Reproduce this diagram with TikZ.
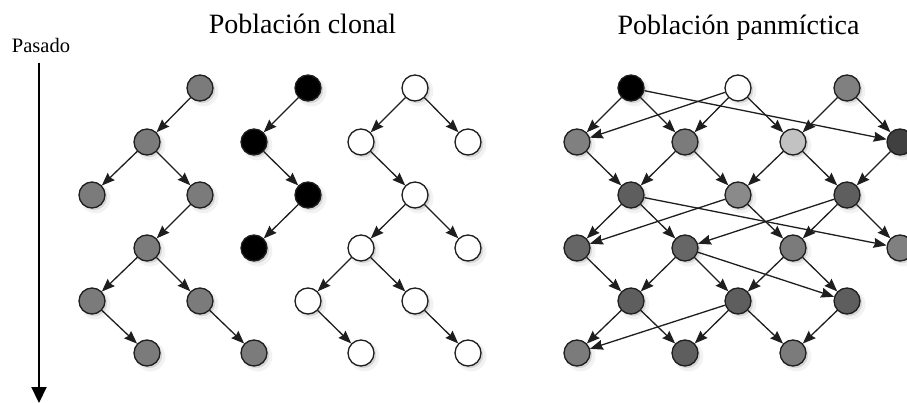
\documentclass[tikz,border=0pt]{standalone}
\usepackage{fontspec}
\setmainfont{Liberation Serif}
\usetikzlibrary{arrows.meta,shadows}

% fill shades of the individuals
\definecolor{gclone}{HTML}{7B7B7B}
\definecolor{gmid}{HTML}{808080}
\definecolor{glight}{HTML}{C2C2C2}
\definecolor{gdeep}{HTML}{404040}
\definecolor{gdark}{HTML}{5E5E5E}
\definecolor{gsoft}{HTML}{8A8A8A}
\definecolor{gdim}{HTML}{666666}
\definecolor{rim}{HTML}{1E1E1E}

\begin{document}
\begin{tikzpicture}[x=1pt,y=-1pt,
  ind/.style={circle, draw=rim, line width=1.3pt, minimum size=26pt, inner sep=0pt,
    drop shadow={opacity=0.10, shadow xshift=3pt, shadow yshift=-3pt, shadow scale=1.15},
    drop shadow={opacity=0.25, shadow xshift=2.2pt, shadow yshift=-2.2pt}},
  link/.style={draw=rim, line width=1.3pt, -{Stealth[length=13pt,width=10pt,inset=1.5pt]}},
  heading/.style={font=\fontsize{28}{32}\selectfont, anchor=base, inner sep=0pt},
  timeline/.style={line width=2.2pt, -{Triangle[length=16pt,width=15pt]}}
]
\useasboundingbox (0,0) rectangle (907,403);

% titles and time axis
\node[heading] (tclonal) at (302.5,34) {Población clonal};
\node[heading] (tpanm) at (738.5,35) {Población panmíctica};
\node[font=\fontsize{20.5}{24}\selectfont, anchor=base, inner sep=0pt] (pasado) at (41,53) {Pasado};
\coordinate (ttop) at (39,63);
\coordinate (tbot) at (39,403);
\draw[timeline] (ttop) -- (tbot);

% ---- clonal population: grey lineage ----
\node[ind, fill=gclone] (g1) at (200,88) {};
\node[ind, fill=gclone] (g2) at (147,142) {};
\node[ind, fill=gclone] (g3) at (92,195) {};
\node[ind, fill=gclone] (g4) at (200,195) {};
\node[ind, fill=gclone] (g5) at (147,248) {};
\node[ind, fill=gclone] (g6) at (92,301) {};
\node[ind, fill=gclone] (g7) at (200,301) {};
\node[ind, fill=gclone] (g8) at (147,353) {};
\node[ind, fill=gclone] (g9) at (254,353) {};
\draw[link] (g1) -- (g2);
\draw[link] (g2) -- (g3);
\draw[link] (g2) -- (g4);
\draw[link] (g4) -- (g5);
\draw[link] (g5) -- (g6);
\draw[link] (g5) -- (g7);
\draw[link] (g6) -- (g8);
\draw[link] (g7) -- (g9);

% ---- clonal population: black lineage ----
\node[ind, fill=black] (k1) at (308,88) {};
\node[ind, fill=black] (k2) at (254,142) {};
\node[ind, fill=black] (k3) at (308,195) {};
\node[ind, fill=black] (k4) at (254,248) {};
\draw[link] (k1) -- (k2);
\draw[link] (k2) -- (k3);
\draw[link] (k3) -- (k4);

% ---- clonal population: white lineage ----
\node[ind, fill=white] (w1) at (415,88) {};
\node[ind, fill=white] (w2) at (361,142) {};
\node[ind, fill=white] (w3) at (468,142) {};
\node[ind, fill=white] (w4) at (415,195) {};
\node[ind, fill=white] (w5) at (361,248) {};
\node[ind, fill=white] (w6) at (468,248) {};
\node[ind, fill=white] (w7) at (308,301) {};
\node[ind, fill=white] (w8) at (415,301) {};
\node[ind, fill=white] (w9) at (361,353) {};
\node[ind, fill=white] (w10) at (468,353) {};
\draw[link] (w1) -- (w2);
\draw[link] (w1) -- (w3);
\draw[link] (w2) -- (w4);
\draw[link] (w4) -- (w5);
\draw[link] (w4) -- (w6);
\draw[link] (w5) -- (w7);
\draw[link] (w5) -- (w8);
\draw[link] (w7) -- (w9);
\draw[link] (w8) -- (w10);

% ---- panmictic population ----
\node[ind, fill=black] (a1) at (631,88) {};
\node[ind, fill=white] (a2) at (738,88) {};
\node[ind, fill=gmid]  (a3) at (847,88) {};

\node[ind, fill=gmid]   (b1) at (577,142) {};
\node[ind, fill=gclone] (b2) at (685,142) {};
\node[ind, fill=glight] (b3) at (793,142) {};
\node[ind, fill=gdeep]  (b4) at (900,142) {};

\node[ind, fill=gdark] (c1) at (631,195) {};
\node[ind, fill=gsoft] (c2) at (738,195) {};
\node[ind, fill=gdark] (c3) at (847,195) {};

\node[ind, fill=gdim]   (d1) at (577,248) {};
\node[ind, fill=gdim]   (d2) at (685,248) {};
\node[ind, fill=gclone] (d3) at (793,248) {};
\node[ind, fill=gmid]   (d4) at (900,248) {};

\node[ind, fill=gdark] (e1) at (631,301) {};
\node[ind, fill=gdark] (e2) at (738,301) {};
\node[ind, fill=gdark] (e3) at (847,301) {};

\node[ind, fill=gclone] (f1) at (577,353) {};
\node[ind, fill=gdark]  (f2) at (685,353) {};
\node[ind, fill=gclone] (f3) at (793,353) {};

\draw[link] (a1) -- (b1);
\draw[link] (a1) -- (b2);
\draw[link] (a1) -- (b4);
\draw[link] (a2) -- (b1);
\draw[link] (a2) -- (b2);
\draw[link] (a2) -- (b3);
\draw[link] (a3) -- (b3);
\draw[link] (a3) -- (b4);

\draw[link] (b1) -- (c1);
\draw[link] (b2) -- (c1);
\draw[link] (b2) -- (c2);
\draw[link] (b3) -- (c2);
\draw[link] (b3) -- (c3);
\draw[link] (b4) -- (c3);

\draw[link] (c1) -- (d1);
\draw[link] (c1) -- (d2);
\draw[link] (c1) -- (d4);
\draw[link] (c2) -- (d1);
\draw[link] (c2) -- (d3);
\draw[link] (c3) -- (d2);
\draw[link] (c3) -- (d3);
\draw[link] (c3) -- (d4);

\draw[link] (d1) -- (e1);
\draw[link] (d2) -- (e1);
\draw[link] (d2) -- (e2);
\draw[link] (d2) -- (e3);
\draw[link] (d3) -- (e2);
\draw[link] (d3) -- (e3);

\draw[link] (e1) -- (f1);
\draw[link] (e1) -- (f2);
\draw[link] (e2) -- (f1);
\draw[link] (e2) -- (f2);
\draw[link] (e2) -- (f3);
\draw[link] (e3) -- (f3);
\end{tikzpicture}
\end{document}
